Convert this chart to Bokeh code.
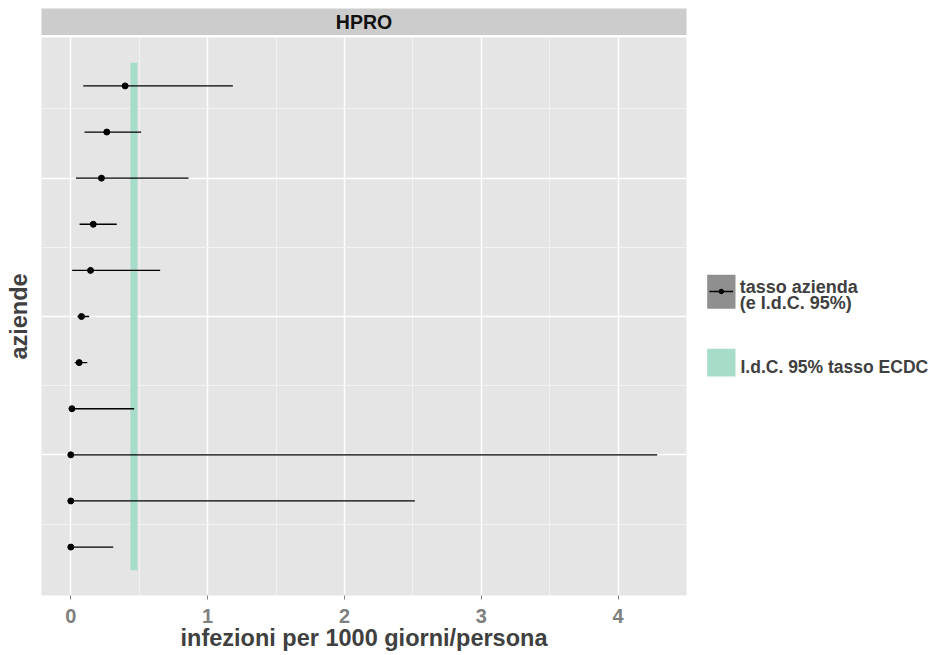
from bokeh.plotting import figure
from bokeh.models import Range1d, FixedTicker
from bokeh.layouts import row, column
from bokeh.core.properties import value
from bokeh.embed import file_html
from bokeh.resources import INLINE

# ---------------- data (top row first) ----------------
facet = ["HPRO"]
rate  = [0.397, 0.263, 0.224, 0.164, 0.144, 0.078, 0.061, 0.008, 0.0, 0.0, 0.0]
lower = [0.091, 0.100, 0.037, 0.064, 0.010, 0.049, 0.029, 0.001, 0.0, 0.0, 0.0]
upper = [1.184, 0.514, 0.860, 0.336, 0.653, 0.134, 0.120, 0.463, 4.285, 2.514, 0.310]
ecdc_ci = [0.436, 0.487]
x_ticks = [0, 1, 2, 3, 4]
y_ticks = [3, 6, 9]
legend_labels = ["tasso azienda", "(e I.d.C. 95%)", "I.d.C. 95% tasso ECDC"]
x_title = "infezioni per 1000 giorni/persona"
y_title = "aziende"

FONT = "Liberation Sans"
TITLE_COL = "#404040"
GREEN = "#A7DCC8"

n = len(rate)
ypos = list(range(n, 0, -1))

# ranges with ggplot-like 5% expansion
x0, x1 = min(0.0, min(lower)), max(upper)
xpad = 0.05 * (x1 - x0)
y0, y1 = 0.5, n + 0.5
ypad = 0.05 * (y1 - y0)

MAIN_W = 696
LEFT = 41
RIGHT = 10

# ---------------- strip ----------------
strip = figure(width=MAIN_W, height=35, x_range=Range1d(0, 1), y_range=Range1d(0, 1),
               x_axis_type=None, y_axis_type=None, toolbar_location=None,
               output_backend="svg", min_border_left=LEFT, min_border_right=RIGHT,
               min_border_top=8, min_border_bottom=0)
strip.background_fill_color = "#CCCCCC"
strip.outline_line_color = None
strip.text(x=[0.5], y=[0.5], text=facet, text_align="center", text_baseline="middle",
           text_font=value(FONT), text_font_size="19.5px", text_font_style="bold",
           text_color="#111111")

# ---------------- main panel ----------------
p = figure(width=MAIN_W, height=618, x_range=Range1d(x0 - xpad, x1 + xpad),
           y_range=Range1d(y0 - ypad, y1 + ypad), toolbar_location=None,
           output_backend="svg", min_border_left=LEFT, min_border_right=RIGHT,
           min_border_top=2, min_border_bottom=58)
p.background_fill_color = "#E5E5E5"
p.border_fill_color = "white"
p.outline_line_color = None

p.quad(left=[ecdc_ci[0]], right=[ecdc_ci[1]], bottom=[y0], top=[y1],
       fill_color=GREEN, line_color=None)
p.segment(x0=lower, y0=ypos, x1=upper, y1=ypos, line_color="black", line_width=1.3)
p.scatter(x=rate, y=ypos, size=6, color="black")

xminor = [t + 0.5 for t in x_ticks[:-1]]
p.xaxis.ticker = FixedTicker(ticks=x_ticks, minor_ticks=xminor)
yminor = [t - 1.5 for t in y_ticks] + [y_ticks[-1] + 1.5]
p.yaxis.ticker = FixedTicker(ticks=y_ticks, minor_ticks=yminor)

for g in (p.xgrid, p.ygrid):
    g.grid_line_color = "white"
    g.grid_line_width = 1.5
    g.minor_grid_line_color = "#F2F2F2"
    g.minor_grid_line_width = 1

ax = p.xaxis[0]
ax.axis_line_color = None
ax.major_tick_line_color = "#7F7F7F"
ax.major_tick_out = 4
ax.major_tick_in = 0
ax.minor_tick_line_color = None
ax.major_label_text_font = FONT
ax.major_label_text_font_size = "20px"
ax.major_label_text_font_style = "bold"
ax.major_label_text_color = "#7F7F7F"
ax.major_label_standoff = 9
ax.axis_label = x_title
ax.axis_label_text_font = FONT
ax.axis_label_text_font_size = "23.5px"
ax.axis_label_text_font_style = "bold"
ax.axis_label_text_color = TITLE_COL
ax.axis_label_standoff = -1

ay = p.yaxis[0]
ay.axis_line_color = None
ay.major_tick_line_color = None
ay.minor_tick_line_color = None
ay.major_label_overrides = {t: "" for t in y_ticks}
ay.axis_label = y_title
ay.axis_label_text_font = FONT
ay.axis_label_text_font_size = "23.5px"
ay.axis_label_text_font_style = "bold"
ay.axis_label_text_color = TITLE_COL
ay.axis_label_standoff = 4

# ---------------- legend ----------------
LG_W, LG_H = 236, 653
lg = figure(width=LG_W, height=LG_H, x_range=Range1d(0, LG_W), y_range=Range1d(LG_H, 0),
            x_axis_type=None, y_axis_type=None, toolbar_location=None,
            output_backend="svg", min_border_left=0, min_border_right=0,
            min_border_top=0, min_border_bottom=0)
lg.outline_line_color = None
lg.background_fill_color = "white"
lg.border_fill_color = "white"

lg.quad(left=[10.7], right=[39], top=[274.3], bottom=[308.3], fill_color="#8F8F8F", line_color=None)
lg.segment(x0=[13], y0=[291], x1=[36.5], y1=[291], line_color="black", line_width=1.3)
lg.scatter(x=[24.8], y=[291], size=4.5, color="black")
lg.text(x=[43.3, 43.3], y=[286, 302.5], text=legend_labels[:2], text_baseline="alphabetic",
        text_font=value(FONT), text_font_size="18px", text_font_style="bold", text_color=TITLE_COL)

lg.quad(left=[10.7], right=[39], top=[348.3], bottom=[376], fill_color=GREEN, line_color=None)
lg.text(x=[44], y=[366], text=[legend_labels[2]], text_baseline="alphabetic",
        text_font=value(FONT), text_font_size="17.5px", text_font_style="bold", text_color=TITLE_COL)

layout = row(column(strip, p, spacing=0), lg, spacing=0)
open("out.html", "w").write(file_html(layout, INLINE))
